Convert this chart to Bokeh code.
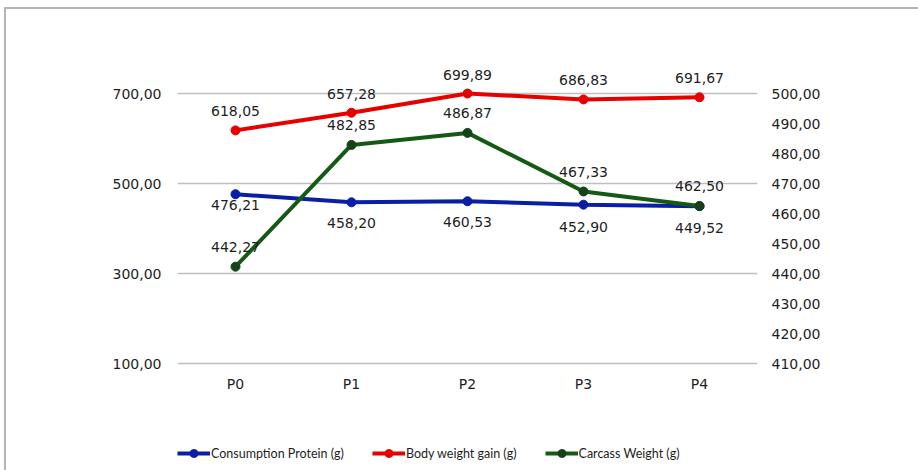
from bokeh.plotting import figure
from bokeh.layouts import column
from bokeh.models import (Range1d, LinearAxis, FixedTicker, Legend, LegendItem,
                          ColumnDataSource, FactorRange)
from bokeh.core.properties import value
from bokeh.embed import file_html
from bokeh.resources import INLINE

# ---- data ----
categories = ["P0", "P1", "P2", "P3", "P4"]
consumption_protein = [476.21, 458.20, 460.53, 452.90, 449.52]
body_weight_gain = [618.05, 657.28, 699.89, 686.83, 691.67]
carcass_weight = [442.27, 482.85, 486.87, 467.33, 462.50]
left_ticks = [100, 300, 500, 700]
right_ticks = [410, 420, 430, 440, 450, 460, 470, 480, 490, 500]
series_names = ["Consumption Protein (g)", "Body weight gain (g)", "Carcass Weight (g)"]

# ---- styling ----
BLUE = "#0a1fa6"
RED = "#e60000"
GREEN = "#145a14"
GREEN_MK = "#16421a"
TXT = "#1e1e1e"
GRID = "#bfbfbf"
LABEL_FONT = value("DejaVu Sans")
blue_label_offsets = [11, 21, 21, 22, 22]


def fmt(v):
    return f"{v:.2f}".replace(".", ",")


W, H_TOTAL = 912, 461
H = 400
H_LEG = H_TOTAL - H
LEFT, FRAME_W = 171, 580
TOP_PAD = 84      # px between frame top and the 700 line
BOT_PAD = 5       # px between the 100 line and frame bottom
FRAME_H = TOP_PAD + 270 + BOT_PAD
BOTTOM = H - FRAME_H

p = figure(x_range=FactorRange(*categories),
           y_range=Range1d(100 - BOT_PAD * 200 / 90, 700 + TOP_PAD * 200 / 90),
           width=W, height=H, output_backend="svg", toolbar_location=None,
           min_border_left=LEFT, min_border_right=W - LEFT - FRAME_W,
           min_border_top=0, min_border_bottom=BOTTOM)
p.extra_y_ranges = {"right": Range1d(410 - BOT_PAD / 3, 500 + TOP_PAD / 3)}
p.outline_line_color = None
p.background_fill_color = "white"
p.border_fill_color = "white"

# left axis
p.yaxis.ticker = FixedTicker(ticks=left_ticks)
p.yaxis.major_label_overrides = {t: fmt(t) for t in left_ticks}
p.yaxis.axis_line_color = None
p.yaxis.major_tick_line_color = None
p.yaxis.minor_tick_line_color = None
p.yaxis.major_label_standoff = 10
p.yaxis.major_label_text_font = "DejaVu Sans"
p.yaxis.major_label_text_font_size = "14px"
p.yaxis.major_label_text_color = TXT

# right axis
ra = LinearAxis(y_range_name="right", ticker=FixedTicker(ticks=right_ticks))
ra.major_label_overrides = {t: fmt(t) for t in right_ticks}
ra.axis_line_color = None
ra.major_tick_line_color = None
ra.minor_tick_line_color = None
ra.major_label_standoff = 8
ra.major_label_text_font = "DejaVu Sans"
ra.major_label_text_font_size = "14px"
ra.major_label_text_color = TXT
p.add_layout(ra, "right")

# x axis
p.xaxis.axis_line_color = None
p.xaxis.major_tick_line_color = None
p.xaxis.minor_tick_line_color = None
p.xaxis.major_label_standoff = 1
p.xaxis.major_label_text_font = "DejaVu Sans"
p.xaxis.major_label_text_font_size = "14px"
p.xaxis.major_label_text_color = TXT

p.xgrid.grid_line_color = None
p.ygrid.grid_line_color = GRID
p.ygrid.grid_line_width = 1.5

src = ColumnDataSource(dict(
    cat=categories,
    cp=consumption_protein,
    bw=body_weight_gain,
    cw=carcass_weight,
    cp_lab=[fmt(v) for v in consumption_protein],
    bw_lab=[fmt(v) for v in body_weight_gain],
    cw_lab=[fmt(v) for v in carcass_weight],
    cp_off=blue_label_offsets,
))

p.line("cat", "cp", source=src, line_color=BLUE, line_width=4)
p.scatter("cat", "cp", source=src, size=9, fill_color=BLUE, line_color=BLUE)
p.line("cat", "bw", source=src, line_color=RED, line_width=4)
p.scatter("cat", "bw", source=src, size=9, fill_color=RED, line_color=RED)
p.line("cat", "cw", source=src, line_color=GREEN, line_width=4, y_range_name="right")
p.scatter("cat", "cw", source=src, size=9, fill_color=GREEN_MK, line_color=GREEN_MK,
          y_range_name="right")

common = dict(source=src, text_align="center", text_baseline="middle",
              text_font=LABEL_FONT, text_font_size="14px", text_color=TXT)
p.text(x="cat", y="cp", text="cp_lab", y_offset="cp_off", **common)
p.text(x="cat", y="bw", text="bw_lab", y_offset=-19, **common)
p.text(x="cat", y="cw", text="cw_lab", y_offset=-20, y_range_name="right", **common)

# ---- legend strip (separate figure below the chart) ----
pl = figure(width=W, height=H_LEG, output_backend="svg", toolbar_location=None,
            x_range=Range1d(0, 1), y_range=Range1d(0, 1),
            min_border_left=0, min_border_right=0, min_border_top=0, min_border_bottom=0)
pl.axis.visible = False
pl.grid.visible = False
pl.outline_line_color = None
pl.border_fill_color = "white"
pl.background_fill_color = "white"

items = []
for name, lc, mc in zip(series_names, [BLUE, RED, GREEN], [BLUE, RED, GREEN_MK]):
    # legend proxies: one point placed outside the visible range
    lr = pl.line(x=[-5, -4], y=[-5, -5], line_color=lc, line_width=4)
    mr = pl.scatter(x=[-5], y=[-5], size=9, fill_color=mc, line_color=mc)
    items.append(LegendItem(label=name, renderers=[lr, mr]))

legend = Legend(items=items, orientation="horizontal", location=(0, 7),
                glyph_width=33, glyph_height=20, label_standoff=1, spacing=28,
                padding=0, margin=0, border_line_color=None, background_fill_alpha=0,
                label_text_font="Lato", label_text_font_size="12.5px",
                label_text_color=TXT)
pl.add_layout(legend, "center")

layout = column(p, pl, spacing=0)
layout.styles = {"border-top": "2px solid #b4b4b4", "border-left": "2px solid #b4b4b4",
                 "margin-left": "4px", "margin-top": "7px"}

open("out.html", "w").write(file_html(layout, INLINE))
